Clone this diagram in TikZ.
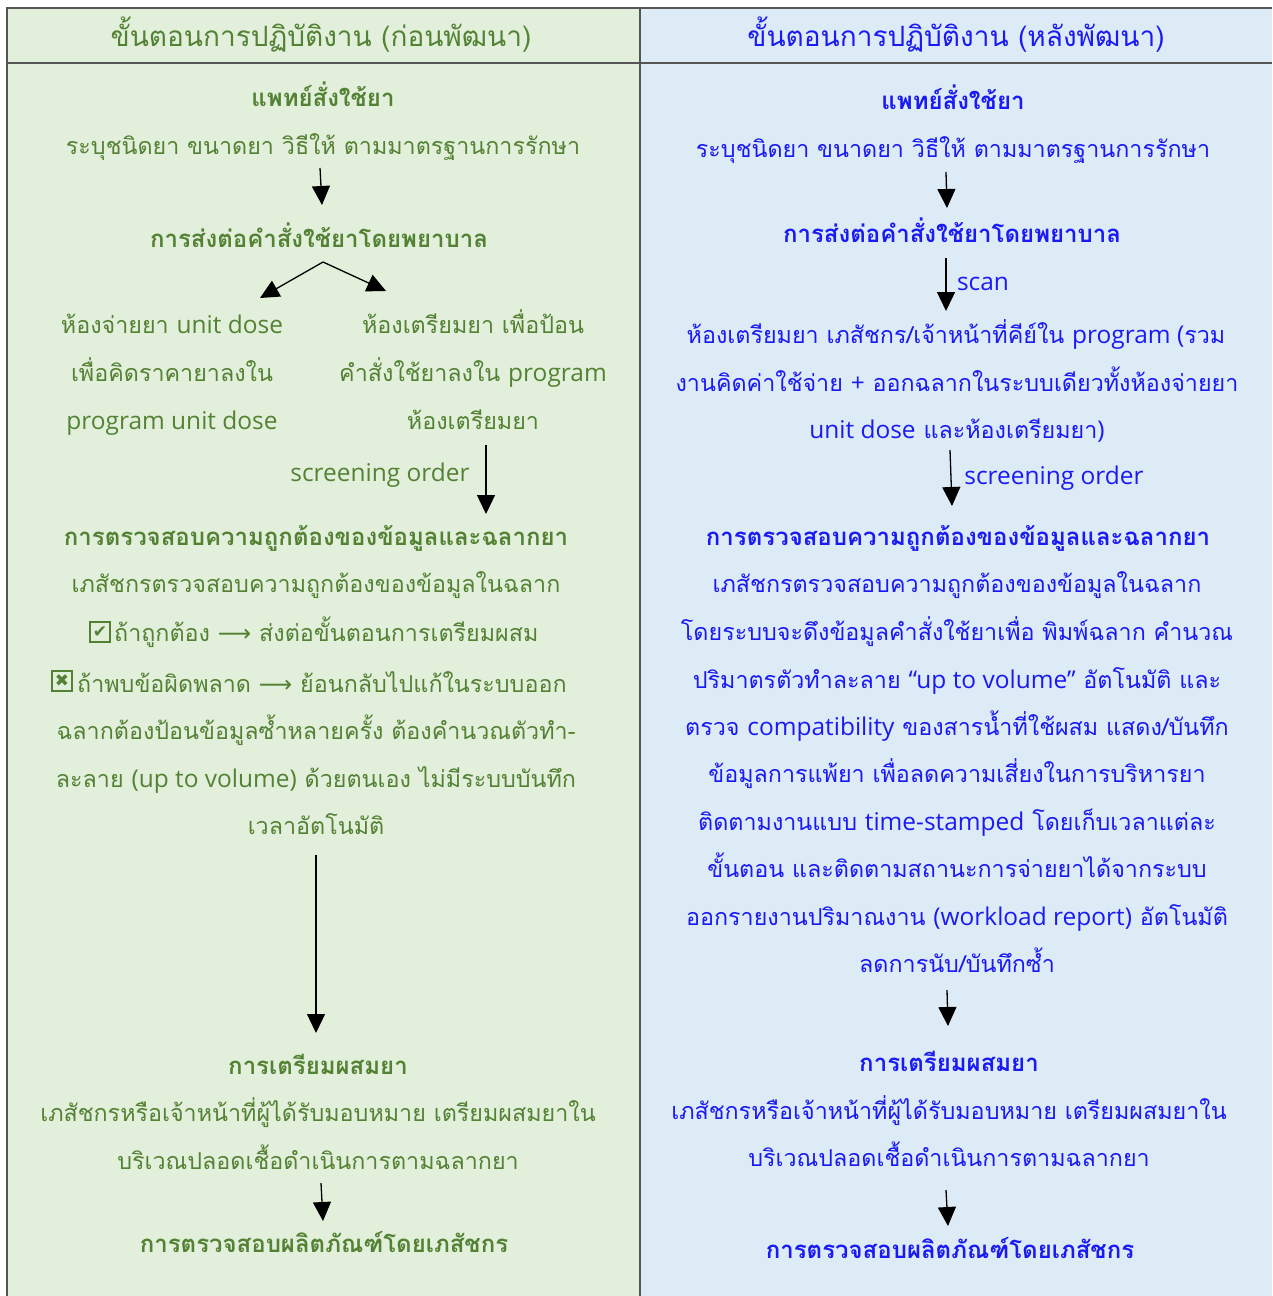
\documentclass[tikz,border=0pt]{standalone}
\usepackage{fontspec}
\setmainfont[Script=Thai]{Loma}
\newfontfamily\symf{DejaVu Sans}
\newfontfamily\latf[Scale=1.05]{Open Sans}
\newcommand{\la}[1]{{\latf #1}}
\usetikzlibrary{arrows.meta}
\definecolor{gtxt}{HTML}{548235}
\definecolor{btxt}{HTML}{1A1AF5}
\definecolor{gbg}{HTML}{E2EFDA}
\definecolor{bbg}{HTML}{DDEBF7}
\definecolor{frame}{HTML}{555555}
\begin{document}
\begin{tikzpicture}[x=1pt,y=-1pt,
  ln/.style={anchor=base,inner sep=0pt,font=\fontsize{23.3}{28}\selectfont},
  hd/.style={ln,font=\fontsize{24}{28}\selectfont\bfseries},
  ttl/.style={ln,font=\fontsize{28}{32}\selectfont},
  gl/.style={text=gtxt},
  bl/.style={text=btxt},
  markbox/.style={draw=gtxt,line width=2.4pt,minimum size=20pt,inner sep=0pt,
    text=gtxt,font=\symf\fontsize{17}{17}\selectfont},
  arr/.style={draw=black,line width=1.3pt,-{Triangle[length=19pt,width=18pt]}}]
\useasboundingbox (0,0) rectangle (1272,1296);
% backgrounds
\fill[gbg] (7,8) rectangle (640,1296);
\fill[bbg] (640,8) rectangle (1272,1296);
\draw[frame,line width=1.5pt] (7,1296) -- (7,8) -- (1272,8);
\draw[frame,line width=1.5pt] (7,63) -- (1272,63);
\draw[frame,line width=1.5pt] (640,8) -- (640,1296);
% headers
\node[ttl,gl] (hL) at (321,46) {ขั้นตอนการปฏิบัติงาน (ก่อนพัฒนา)};
\node[ttl,bl] (hR) at (956,46) {ขั้นตอนการปฏิบัติงาน (หลังพัฒนา)};
% ---------------- left column ----------------
\node[hd,gl] (L1) at (323,106) {แพทย์สั่งใช้ยา};
\node[ln,gl] (L2) at (323,154) {ระบุชนิดยา ขนาดยา วิธีให้ ตามมาตรฐานการรักษา};
\node[hd,gl] (L3) at (319,247) {การส่งต่อคำสั่งใช้ยาโดยพยาบาล};
\node[ln,gl] (L4a) at (172,333) {ห้องจ่ายยา \la{unit dose}};
\node[ln,gl] (L4b) at (172,381) {เพื่อคิดราคายาลงใน};
\node[ln,gl] (L4c) at (172,429) {\la{program unit dose}};
\node[ln,gl] (L5a) at (473,333) {ห้องเตรียมยา เพื่อป้อน};
\node[ln,gl] (L5b) at (473,381) {คำสั่งใช้ยาลงใน \la{program}};
\node[ln,gl] (L5c) at (473,429) {ห้องเตรียมยา};
\node[ln,gl] (L6) at (380,481) {\la{screening order}};
\node[hd,gl] (L7) at (316,545) {การตรวจสอบความถูกต้องของข้อมูลและฉลากยา};
\node[ln,gl] (L8) at (316,592) {เภสัชกรตรวจสอบความถูกต้องของข้อมูลในฉลาก};
\node[markbox] (c1) at (100,632) {✔};
\node[ln,gl,anchor=base west] (L9) at (114,641) {ถ้าถูกต้อง {\symf ⟶} ส่งต่อขั้นตอนการเตรียมผสม};
\node[markbox] (c2) at (62,681) {✖};
\node[ln,gl,anchor=base west] (L10) at (77,692) {ถ้าพบข้อผิดพลาด {\symf ⟶} ย้อนกลับไปแก้ในระบบออก};
\node[ln,gl] (L11) at (316,739) {ฉลากต้องป้อนข้อมูลซ้ำหลายครั้ง ต้องคำนวณตัวทำ-};
\node[ln,gl] (L12) at (316,787) {ละลาย \la{(up to volume)} ด้วยตนเอง ไม่มีระบบบันทึก};
\node[ln,gl] (L13) at (316,834) {เวลาอัตโนมัติ};
\node[hd,gl] (L14) at (318,1074) {การเตรียมผสมยา};
\node[ln,gl] (L15) at (318,1121) {เภสัชกรหรือเจ้าหน้าที่ผู้ได้รับมอบหมาย เตรียมผสมยาใน};
\node[ln,gl] (L16) at (318,1169) {บริเวณปลอดเชื้อดำเนินการตามฉลากยา};
\node[hd,gl] (L17) at (324,1252) {การตรวจสอบผลิตภัณฑ์โดยเภสัชกร};
% ---------------- right column ----------------
\node[hd,bl] (R1) at (953,109) {แพทย์สั่งใช้ยา};
\node[ln,bl] (R2) at (953,157) {ระบุชนิดยา ขนาดยา วิธีให้ ตามมาตรฐานการรักษา};
\node[hd,bl] (R3) at (952,242) {การส่งต่อคำสั่งใช้ยาโดยพยาบาล};
\node[ln,bl] (R4) at (983,290) {\la{scan}};
\node[ln,bl] (R5a) at (956,343) {ห้องเตรียมยา เภสัชกร/เจ้าหน้าที่คีย์ใน \la{program (}รวม};
\node[ln,bl] (R5b) at (957,391) {งานคิดค่าใช้จ่าย \la{+} ออกฉลากในระบบเดียวทั้งห้องจ่ายยา};
\node[ln,bl] (R5c) at (957,438) {\la{unit dose} และห้องเตรียมยา\la{)}};
\node[ln,bl] (R6) at (1054,484) {\la{screening order}};
\node[hd,bl] (R7) at (958,545) {การตรวจสอบความถูกต้องของข้อมูลและฉลากยา};
\node[ln,bl] (R8) at (957,592) {เภสัชกรตรวจสอบความถูกต้องของข้อมูลในฉลาก};
\node[ln,bl] (R9) at (957,640) {โดยระบบจะดึงข้อมูลคำสั่งใช้ยาเพื่อ พิมพ์ฉลาก คำนวณ};
\node[ln,bl] (R10) at (957,688) {ปริมาตรตัวทำละลาย \la{“up to volume”} อัตโนมัติ และ};
\node[ln,bl] (R11) at (957,735) {ตรวจ \la{compatibility} ของสารน้ำที่ใช้ผสม แสดง/บันทึก};
\node[ln,bl] (R12) at (957,782) {ข้อมูลการแพ้ยา เพื่อลดความเสี่ยงในการบริหารยา};
\node[ln,bl] (R13) at (957,830) {ติดตามงานแบบ \la{time-stamped} โดยเก็บเวลาแต่ละ};
\node[ln,bl] (R14) at (957,877) {ขั้นตอน และติดตามสถานะการจ่ายยาได้จากระบบ};
\node[ln,bl] (R15) at (957,925) {ออกรายงานปริมาณงาน \la{(workload report)} อัตโนมัติ};
\node[ln,bl] (R16) at (957,972) {ลดการนับ/บันทึกซ้ำ};
\node[hd,bl] (R17) at (949,1071) {การเตรียมผสมยา};
\node[ln,bl] (R18) at (949,1119) {เภสัชกรหรือเจ้าหน้าที่ผู้ได้รับมอบหมาย เตรียมผสมยาใน};
\node[ln,bl] (R19) at (949,1166) {บริเวณปลอดเชื้อดำเนินการตามฉลากยา};
\node[hd,bl] (R20) at (950,1258) {การตรวจสอบผลิตภัณฑ์โดยเภสัชกร};
% ---------------- connector end points ----------------
\coordinate (a1s) at (320,168);  \coordinate (a1e) at (322,205);
\coordinate (a2s) at (323,262);  \coordinate (a2l) at (260,298); \coordinate (a2r) at (386,291);
\coordinate (a3s) at (486,445);  \coordinate (a3e) at (486,514);
\coordinate (a4s) at (316,855);  \coordinate (a4e) at (316,1033);
\coordinate (a5s) at (321,1183); \coordinate (a5e) at (323,1221);
\coordinate (b1s) at (946,172);  \coordinate (b1e) at (947,208);
\coordinate (b2s) at (946,258);  \coordinate (b2e) at (946,311);
\coordinate (b3s) at (950,450);  \coordinate (b3e) at (952,506);
\coordinate (b4s) at (947,990);  \coordinate (b4e) at (948,1026);
\coordinate (b5s) at (946,1190); \coordinate (b5e) at (948,1226);
\draw[arr] (a1s) -- (a1e);
\draw[arr] (a2s) -- (a2l);
\draw[arr] (a2s) -- (a2r);
\draw[arr] (a3s) -- (a3e);
\draw[arr] (a4s) -- (a4e);
\draw[arr] (a5s) -- (a5e);
\draw[arr] (b1s) -- (b1e);
\draw[arr] (b2s) -- (b2e);
\draw[arr] (b3s) -- (b3e);
\draw[arr] (b4s) -- (b4e);
\draw[arr] (b5s) -- (b5e);
\end{tikzpicture}
\end{document}
